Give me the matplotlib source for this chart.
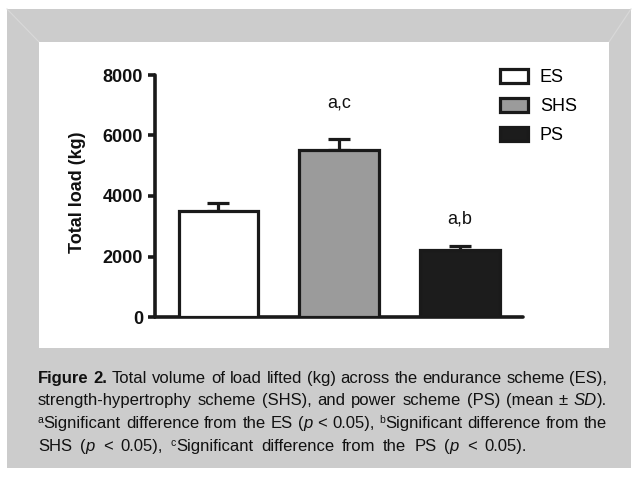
import matplotlib
matplotlib.use("Agg")
import matplotlib.pyplot as plt
from matplotlib.patches import Rectangle
from matplotlib.lines import Line2D

# ---------------- data ----------------
groups = ["ES", "SHS", "PS"]
means = [3520, 5520, 2200]
sds = [260, 370, 150]
sig_labels = ["", "a,c", "a,b"]
yticks = [0, 2000, 4000, 6000, 8000]
ylabel = "Total load (kg)"

# ---------------- styles ----------------
bar_colors = ["#ffffff", "#9b9b9b", "#1c1c1c"]
W, H = 632, 478
GRAY = "#cccccc"

def fx(px):
    return px / W

def fy(py):
    return 1 - py / H

fig = plt.figure(figsize=(W / 100, H / 100), dpi=100)
fig.patch.set_facecolor("white")

# frame background
fig.patches.append(Rectangle((fx(7), fy(468)), fx(631) - fx(7), fy(9) - fy(468),
                             transform=fig.transFigure, facecolor=GRAY, edgecolor="none", zorder=0))
fig.patches.append(Rectangle((fx(39), fy(348)), fx(609) - fx(39), fy(42) - fy(348),
                             transform=fig.transFigure, facecolor="white", edgecolor="none", zorder=1))
for (x0, y0, x1, y1) in [(7, 9, 39, 42), (631, 9, 609, 42)]:
    fig.lines.append(Line2D([fx(x0), fx(x1)], [fy(y0), fy(y1)], transform=fig.transFigure,
                            color="#d9d9d9", lw=0.8, zorder=1))

# ---------------- axes ----------------
ax = fig.add_axes([fx(155), fy(317), fx(523) - fx(155), fy(75) - fy(317)])
ax.set_facecolor("none")
ax.set_zorder(3)

x = list(range(len(groups)))
ax.errorbar(x, means, yerr=[[0] * len(sds), sds], fmt="none", ecolor="#1a1a1a",
            elinewidth=2.3, capsize=8, capthick=2.3, zorder=2)
bars = ax.bar(x, means, width=0.66, color=bar_colors, edgecolor="#1a1a1a",
              linewidth=2.3, zorder=3)
for b, g in zip(bars, groups):
    b.set_label(g)

ax.set_xlim(-0.525, 2.52)
ax.set_ylim(0, 8000)
ax.set_yticks(yticks)
ax.set_yticklabels([str(t) for t in yticks])
ax.set_xticks([])
for s in ["top", "right"]:
    ax.spines[s].set_visible(False)
for s in ["left", "bottom"]:
    ax.spines[s].set_linewidth(2.6)
    ax.spines[s].set_color("#1a1a1a")
    ax.spines[s].set_capstyle("round")
ax.tick_params(axis="y", length=5, width=2.6, color="#1a1a1a", pad=3.5)
for lab in ax.get_yticklabels():
    lab.set_fontfamily("Liberation Sans")
    lab.set_fontweight("bold")
    lab.set_fontsize(13)
    lab.set_color("#111111")

fig.text(fx(78), fy(192), ylabel, rotation=90, ha="center", va="center",
         fontfamily="Liberation Sans", fontweight="bold", fontsize=13, color="#111111")

offsets = [0, 20, 13]
for xi, m, s, lab, off in zip(x, means, sds, sig_labels, offsets):
    if lab:
        ax.annotate(lab, (xi, m + s), xytext=(0, off), textcoords="offset points",
                    ha="center", va="bottom", fontfamily="Liberation Sans", fontsize=13,
                    color="#111111")

leg = ax.legend(loc="upper left", bbox_to_anchor=(fx(500), fy(69)),
                bbox_transform=fig.transFigure, frameon=False, borderpad=0,
                borderaxespad=0, handlelength=1.55, handleheight=0.8,
                handletextpad=0.65, labelspacing=0.65,
                prop={"family": "Liberation Sans", "size": 13})

# ---------------- caption ----------------
cap_family = "Liberation Sans"
cap_color = "#111111"

N, B, I, S = "n", "b", "i", "s"
caption_lines = [
    [[("Figure", B)], [("2.", B)], [("Total", N)], [("volume", N)], [("of", N)], [("load", N)],
     [("lifted", N)], [("(kg)", N)], [("across", N)], [("the", N)], [("endurance", N)],
     [("scheme", N)], [("(ES),", N)]],
    [[("strength-hypertrophy", N)], [("scheme", N)], [("(SHS),", N)], [("and", N)], [("power", N)],
     [("scheme", N)], [("(PS)", N)], [("(mean", N)], [("±", N)], [("SD", I), (").", N)]],
    [[("a", S), ("Significant", N)], [("difference", N)], [("from", N)], [("the", N)], [("ES", N)],
     [("(", N), ("p", I)], [("<", N)], [("0.05),", N)], [("b", S), ("Significant", N)],
     [("difference", N)], [("from", N)], [("the", N)]],
    [[("SHS", N)], [("(", N), ("p", I)], [("<", N)], [("0.05),", N)], [("c", S), ("Significant", N)],
     [("difference", N)], [("from", N)], [("the", N)], [("PS", N)], [("(", N), ("p", I)],
     [("<", N)], [("0.05).", N)]],
]
line_y = [383, 405, 428, 451]
line_end = [607, 607, 607, 527]
x_left = 38

fig.canvas.draw()
renderer = fig.canvas.get_renderer()

def make(txt, style, xp, yp, size):
    kw = dict(fontfamily=cap_family, fontsize=size, color=cap_color, va="baseline", ha="left")
    dy = 0
    if style == B:
        kw["fontweight"] = "bold"
    elif style == I:
        kw["fontstyle"] = "italic"
    elif style == S:
        kw["fontsize"] = size * 0.62
        dy = 0.42 * size
    return fig.text(fx(xp), fy(yp) + dy / H, txt, **kw)

def width(txt, style, size):
    t = make(txt, style, 0, 0, size)
    w = t.get_window_extent(renderer).width
    t.remove()
    return w

def line_width(words, size):
    sw = width("a a", N, size) - width("aa", N, size)
    return sum(sum(width(t, st, size) for t, st in wd) for wd in words) + sw * (len(words) - 1)

# fit caption size so the widest of the first three lines fits with natural spacing
size = 10.0
for _ in range(3):
    widest = max(line_width(w, size) for w in caption_lines[:3])
    size *= (line_end[0] - x_left) / widest

for words, yb, xe in zip(caption_lines, line_y, line_end):
    wws = [sum(width(t, st, size) for t, st in wd) for wd in words]
    gap = (xe - x_left - sum(wws)) / (len(words) - 1)
    xp = x_left
    for wd, ww in zip(words, wws):
        xx = xp
        for t, st in wd:
            make(t, st, xx, yb, size)
            xx += width(t, st, size)
        xp += ww + gap

fig.savefig("out.png", dpi=100, facecolor=fig.get_facecolor())
